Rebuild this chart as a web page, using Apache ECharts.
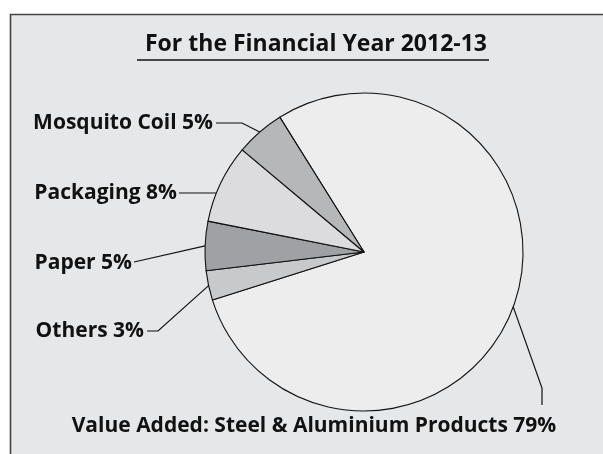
<!DOCTYPE html>
<html><head><meta charset="utf-8">
<script src="https://cdn.jsdelivr.net/npm/echarts@6/dist/echarts.min.js"></script>
<style>html,body{margin:0;padding:0;background:#fff}#c{width:603px;height:454px}</style>
</head><body><div id="c"></div>
<script>
const titleText = 'For the Financial Year 2012-13';
const categories = ['Value Added: Steel & Aluminium Products', 'Others', 'Paper', 'Packaging', 'Mosquito Coil'];
const shares = [79, 3, 5, 8, 5];
const sliceColors = ['#ededed', '#c8c9cb', '#a0a1a4', '#dcdcde', '#b6b7b9'];

const CX = 364, CY = 252, R = 159;
const FONT = '"Open Sans", sans-serif';
const labelSpots = [
  {x: 314, y: 426, align: 'center', bend: [[542, 388], [542, 405]]},
  {x: 144, y: 331, align: 'right', bend: [[158, 331], [147, 331]]},
  {x: 132, y: 263, align: 'right', bend: [[134, 262]]},
  {x: 177, y: 193, align: 'right', level: true, bend: [[179, 193]]},
  {x: 213, y: 123, align: 'right', bend: [[242, 123], [216, 123]]}
];

const chart = echarts.init(document.getElementById('c'), null, {renderer: 'canvas'});
chart.setOption({
  animation: false,
  backgroundColor: '#ffffff',
  title: {
    text: titleText, left: 311, top: 28, textAlign: 'center',
    textStyle: {fontFamily: FONT, fontWeight: 700, fontSize: 23, color: '#111'}
  },
  graphic: [
    {type: 'rect', z: 0, shape: {x: 10.5, y: 14.5, width: 620, height: 460},
     style: {fill: '#e6e7e8', stroke: '#444', lineWidth: 1.6}},
    {type: 'line', z: 5, shape: {x1: 137, y1: 60, x2: 489, y2: 60},
     style: {stroke: '#111', lineWidth: 1.5}}
  ],
  series: [{
    type: 'pie', z: 3,
    center: [CX, CY], radius: R,
    startAngle: 122, clockwise: true,
    emphasis: {disabled: true},
    itemStyle: {borderColor: '#111', borderWidth: 1.1},
    label: {
      show: true, formatter: '{b} {c}%', overflow: 'none',
      fontFamily: FONT, fontWeight: 700, fontSize: 21, color: '#111'
    },
    labelLine: {show: true, lineStyle: {color: '#111', width: 1.2}},
    labelLayout: function (p) {
      const s = labelSpots[p.dataIndex];
      let edge = p.labelLinePoints ? p.labelLinePoints[0] : [CX, CY];
      if (s.level) {
        const dy = s.y - CY;
        edge = [CX - Math.sqrt(R * R - dy * dy), s.y];
      }
      return {
        x: s.x, y: s.y, align: s.align, verticalAlign: 'middle', width: 560,
        labelLinePoints: [edge].concat(s.bend)
      };
    },
    data: categories.map((n, i) => ({name: n, value: shares[i], itemStyle: {color: sliceColors[i]}}))
  }]
});
</script></body></html>
